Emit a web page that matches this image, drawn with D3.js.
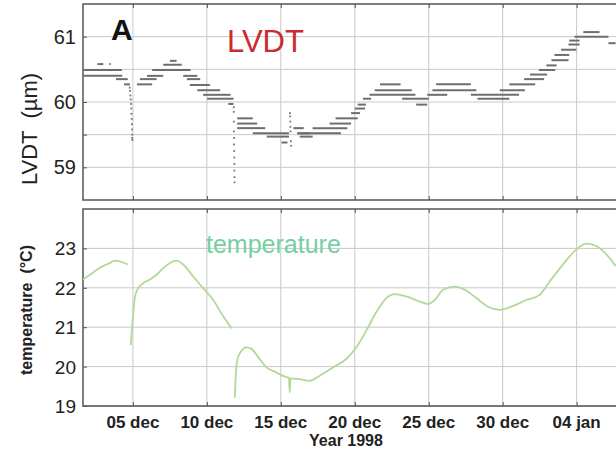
<!DOCTYPE html>
<meta charset="utf-8">
<style>
	body {
		margin: 0;
		background: #fff;
		font-family: "Liberation Sans", Arial, sans-serif;
	}
	.grid line {
		stroke: #c8c8c8;
		stroke-width: 1;
	}
	.frame {
		fill: none;
		stroke: #555;
		stroke-width: 1.5;
	}
</style>
<body>
<script src="https://d3js.org/d3.v7.min.js"></script>
<script>
	// day numbers are days of Dec 1998 (32 = 01 jan)
	var tickDays = [5, 10, 15, 20, 25, 30, 35];

	// LVDT readings: quantized levels, [from day, to day, µm]
	var lvdtSegments = [
		[1.62, 4.25, 60.49], [1.62, 4.28, 60.40], [2.60, 3.00, 60.58], [3.40, 3.50, 60.58],
		[3.85, 4.65, 60.35], [4.40, 4.80, 60.27],
		[5.27, 6.30, 60.27], [5.47, 6.60, 60.35], [5.95, 7.05, 60.40], [6.30, 8.90, 60.49],
		[7.05, 8.30, 60.57], [7.50, 7.95, 60.63],
		[8.40, 9.35, 60.40], [8.65, 9.55, 60.35], [8.85, 10.20, 60.26], [9.35, 10.90, 60.18],
		[9.75, 11.60, 60.11], [10.02, 11.80, 60.05], [11.45, 11.80, 59.97],
		[12.05, 13.10, 59.75], [12.05, 13.40, 59.67], [12.05, 13.95, 59.60], [13.10, 15.55, 59.52],
		[14.05, 15.55, 59.47], [15.05, 15.45, 59.38],
		[15.85, 16.55, 59.60], [16.10, 16.98, 59.52], [17.15, 19.50, 59.60], [16.15, 19.07, 59.52],
		[16.28, 17.15, 59.47],
		[18.30, 19.75, 59.67], [18.70, 20.20, 59.75], [19.75, 20.35, 59.83], [20.00, 20.70, 59.90],
		[20.20, 20.75, 59.96], [20.55, 21.10, 60.05], [21.00, 24.10, 60.11], [21.35, 23.85, 60.18],
		[21.70, 23.10, 60.27], [23.20, 25.00, 60.05], [24.15, 24.90, 59.96], [24.90, 26.25, 60.11],
		[25.25, 28.22, 60.18], [25.50, 27.85, 60.27], [27.85, 31.10, 60.11], [28.30, 30.45, 60.05],
		[29.80, 31.50, 60.18], [30.45, 32.20, 60.27], [31.45, 32.80, 60.35], [31.85, 33.00, 60.42],
		[32.45, 33.55, 60.49], [32.95, 33.65, 60.56], [33.30, 34.45, 60.64], [33.50, 34.50, 60.72],
		[33.95, 34.98, 60.80], [34.45, 35.20, 60.88], [34.50, 35.20, 60.94], [34.85, 37.15, 61.00],
		[35.45, 36.55, 61.07], [37.15, 37.64, 60.90]
	];

	// isolated LVDT readings in the sudden drops, [day, µm]
	var lvdtDrops = [
		[4.78, 60.22], [4.80, 60.17], [4.83, 60.10], [4.85, 60.04], [4.87, 59.97], [4.89, 59.90],
		[4.90, 59.82], [4.92, 59.74], [4.93, 59.66], [4.94, 59.58], [4.95, 59.50], [4.95, 59.45],
		[4.96, 59.42],
		[11.82, 59.92], [11.82, 59.85], [11.83, 59.70], [11.83, 59.55], [11.84, 59.45], [11.84, 59.35],
		[11.85, 59.25], [11.85, 59.15], [11.86, 59.05], [11.86, 58.95], [11.87, 58.85], [11.87, 58.77],
		[15.62, 59.83], [15.63, 59.78], [15.64, 59.70], [15.65, 59.62], [15.66, 59.55], [15.68, 59.40],
		[15.70, 59.33]
	];

	// temperature pieces, [day, °C]
	var tempPieces = [
		[[1.62, 22.21], [2.09, 22.33], [2.57, 22.46], [2.97, 22.55], [3.45, 22.63], [3.78, 22.69],
			[4.12, 22.67], [4.66, 22.59]],
		[[4.86, 20.54], [4.91, 20.84], [5.02, 21.35], [5.14, 21.78], [5.36, 21.99], [5.70, 22.12],
			[6.15, 22.21], [6.60, 22.33], [7.05, 22.50], [7.50, 22.63], [7.95, 22.69], [8.40, 22.59],
			[9.07, 22.29], [9.75, 21.99], [10.43, 21.69], [10.99, 21.35], [11.67, 20.97]],
		[[11.89, 19.21], [11.96, 19.81], [12.05, 20.15], [12.28, 20.37], [12.68, 20.49], [13.02, 20.45],
			[13.47, 20.24], [14.03, 19.98], [14.71, 19.85], [15.39, 19.73], [15.55, 19.72], [15.60, 19.34],
			[15.65, 19.70], [16.28, 19.68], [16.96, 19.64], [17.64, 19.77], [18.53, 19.98], [19.44, 20.20],
			[20.11, 20.49], [20.79, 20.92], [21.47, 21.39], [22.14, 21.74], [22.70, 21.84], [23.49, 21.78],
			[24.39, 21.65], [24.95, 21.59], [25.41, 21.69], [25.97, 21.95], [26.76, 22.03], [27.43, 21.95],
			[28.22, 21.74], [29.01, 21.52], [29.80, 21.44], [30.70, 21.54], [31.60, 21.69], [32.50, 21.82],
			[33.18, 22.16], [34.07, 22.59], [34.98, 22.97], [35.65, 23.12], [36.33, 23.06], [37.01, 22.85],
			[37.64, 22.55]]
	];

	var lvdtTicks = [59, 60, 61];
	var lvdtGrid = [59, 59.5, 60, 60.5, 61];
	var tempTicks = [19, 20, 21, 22, 23];

	function day(d) {
		var base = new Date(1998, 11, 1);
		return new Date(base.getTime() + (d - 1) * 86400000);
	}

	var W = 616, H = 452;
	var left = 83, right = 621;

	var svg = d3.select("body").append("svg")
		.attr("width", W)
		.attr("height", H);

	var x = d3.scaleTime()
		.domain([day(1.625), day(38)])
		.range([left, right]);

	var yTop = d3.scaleLinear().domain([58.5, 61.5]).range([200, 4]);
	var yBot = d3.scaleLinear().domain([19, 24]).range([406, 209]);

	var fmt = d3.timeFormat("%d %b");
	var tickDates = tickDays.map(day);

	var defs = svg.append("defs");
	defs.append("clipPath").attr("id", "clipTop")
		.append("rect").attr("x", left).attr("y", 4).attr("width", right - left).attr("height", 196);
	defs.append("clipPath").attr("id", "clipBot")
		.append("rect").attr("x", left).attr("y", 209).attr("width", right - left).attr("height", 197);

	function inward(a) {
		a.select(".domain").remove();
		a.selectAll("line").attr("stroke", "#555");
	}

	function panel(y, gridTicks) {
		var g = svg.append("g");
		var r = y.range();
		var grid = g.append("g").attr("class", "grid");
		grid.selectAll(".v").data(tickDates).enter().append("line")
			.attr("x1", x).attr("x2", x)
			.attr("y1", r[1]).attr("y2", r[0]);
		grid.selectAll(".h").data(gridTicks).enter().append("line")
			.attr("x1", left).attr("x2", right)
			.attr("y1", y).attr("y2", y);

		// inward tick marks
		g.append("g").attr("transform", "translate(" + left + ",0)")
			.call(d3.axisRight(y).tickValues(gridTicks).tickSize(4).tickFormat(""))
			.call(inward);
		g.append("g").attr("transform", "translate(0," + r[1] + ")")
			.call(d3.axisBottom(x).tickValues(tickDates).tickSize(4).tickFormat(""))
			.call(inward);
		g.append("g").attr("transform", "translate(0," + r[0] + ")")
			.call(d3.axisTop(x).tickValues(tickDates).tickSize(4).tickFormat(""))
			.call(inward);

		g.append("rect").attr("class", "frame")
			.attr("x", left).attr("y", r[1])
			.attr("width", right - left).attr("height", r[0] - r[1]);
	}

	panel(yTop, lvdtGrid);
	panel(yBot, tempTicks);

	// LVDT marks
	var lv = svg.append("g").attr("clip-path", "url(#clipTop)");
	lv.selectAll(".seg").data(lvdtSegments).enter().append("line")
		.attr("x1", function(d) { return x(day(d[0])); })
		.attr("x2", function(d) { return x(day(d[1])); })
		.attr("y1", function(d) { return yTop(d[2]); })
		.attr("y2", function(d) { return yTop(d[2]); })
		.attr("stroke", "#6e6e6e")
		.attr("stroke-width", 2);
	lv.selectAll(".dot").data(lvdtDrops).enter().append("rect")
		.attr("x", function(d) { return x(day(d[0])) - 0.9; })
		.attr("y", function(d) { return yTop(d[1]) - 0.9; })
		.attr("width", 1.8).attr("height", 1.8)
		.attr("fill", "#777");

	// temperature curve
	var line = d3.line()
		.x(function(d) { return x(day(d[0])); })
		.y(function(d) { return yBot(d[1]); })
		.curve(d3.curveMonotoneX);
	svg.append("g").attr("clip-path", "url(#clipBot)")
		.selectAll("path").data(tempPieces).enter().append("path")
		.attr("d", line)
		.attr("fill", "none")
		.attr("stroke", "#b2d89a")
		.attr("stroke-width", 1.8);

	// y tick labels
	svg.selectAll(".ly").data(lvdtTicks).enter().append("text")
		.attr("x", 76).attr("y", function(d) { return yTop(d) + 7; })
		.attr("text-anchor", "end")
		.style("font-size", "20px").style("fill", "#222")
		.text(function(d) { return d; });
	svg.selectAll(".ty").data(tempTicks).enter().append("text")
		.attr("x", 76).attr("y", function(d) { return yBot(d) + 7; })
		.attr("text-anchor", "end")
		.style("font-size", "19px").style("fill", "#222")
		.text(function(d) { return d; });

	// x tick labels
	svg.selectAll(".xl").data(tickDates).enter().append("text")
		.attr("x", x).attr("y", 428)
		.attr("text-anchor", "middle")
		.style("font-size", "17px").style("font-weight", "bold").style("fill", "#222")
		.text(function(d) { return fmt(d).toLowerCase(); });

	svg.append("text")
		.attr("x", 346).attr("y", 446)
		.attr("text-anchor", "middle")
		.style("font-size", "16px").style("font-weight", "bold").style("fill", "#222")
		.text("Year 1998");

	// axis titles
	svg.append("text")
		.attr("transform", "translate(37,129) rotate(-90)")
		.attr("text-anchor", "middle")
		.style("font-size", "22px").style("fill", "#222")
		.attr("xml:space", "preserve")
		.text("LVDT  (µm)");
	svg.append("text")
		.attr("transform", "translate(32,310) rotate(-90)")
		.attr("text-anchor", "middle")
		.style("font-size", "16px").style("font-weight", "bold").style("fill", "#222")
		.attr("xml:space", "preserve")
		.text("temperature  (°C)");

	// panel labels
	svg.append("text")
		.attr("x", 111).attr("y", 40)
		.style("font-size", "30px").style("font-weight", "bold").style("fill", "#111")
		.text("A");
	svg.append("text")
		.attr("x", 227).attr("y", 52)
		.style("font-size", "31px").style("fill", "#cc2a2e")
		.text("LVDT");
	svg.append("text")
		.attr("x", 206).attr("y", 253)
		.style("font-size", "25px").style("fill", "#74cfa2")
		.text("temperature");
</script>
</body>
